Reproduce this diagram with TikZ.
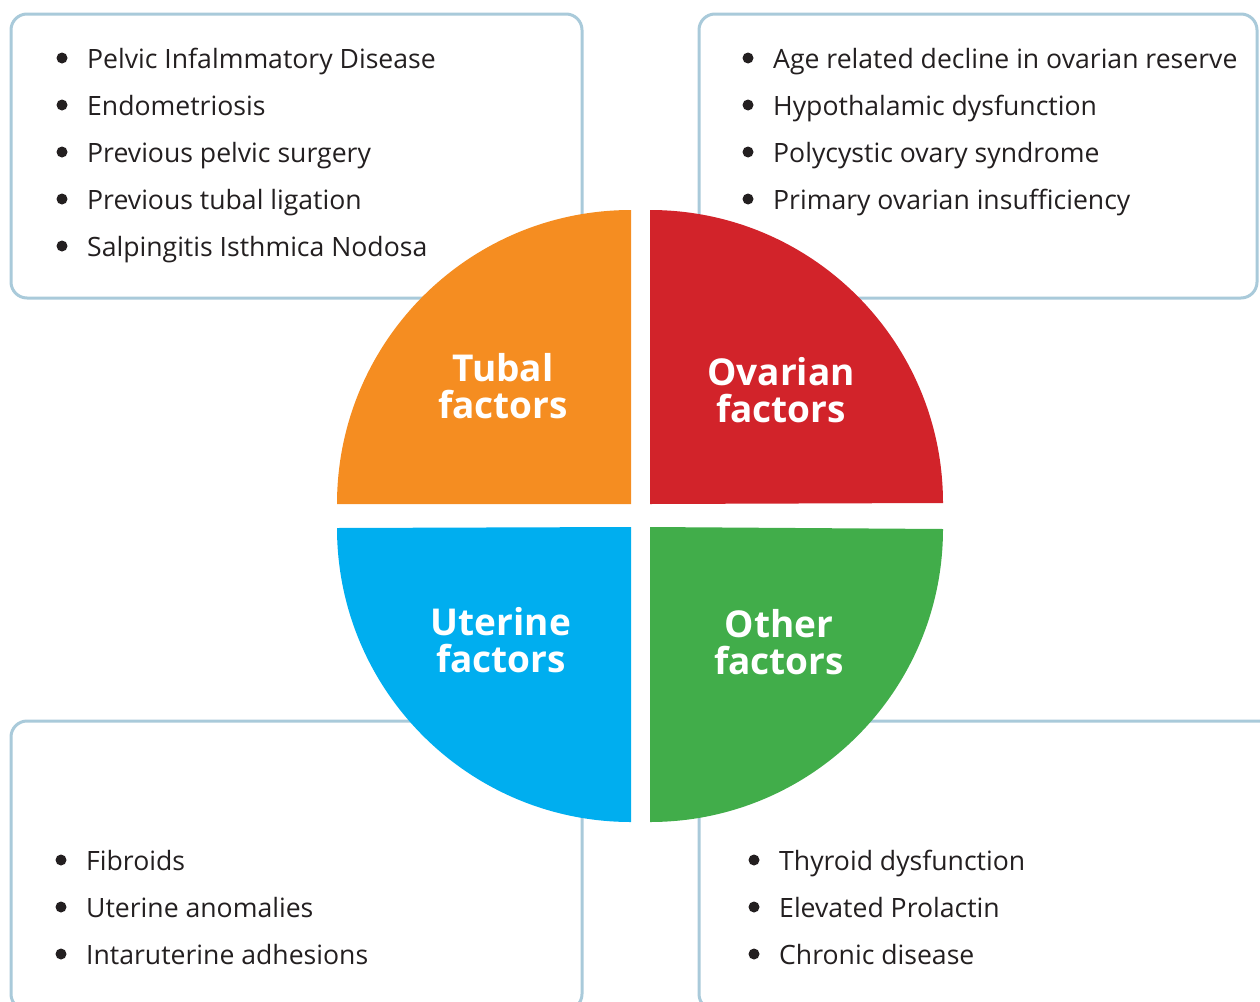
\documentclass[tikz,border=0pt]{standalone}
\usepackage{fontspec}
\setmainfont{Open Sans}
\definecolor{boxline}{HTML}{A9CADA}
\definecolor{ink}{HTML}{231F20}
\definecolor{tubal}{HTML}{F58D21}
\definecolor{ovarian}{HTML}{D2232A}
\definecolor{uterine}{HTML}{00AEEF}
\definecolor{other}{HTML}{41AD4A}

\begin{document}
\begin{tikzpicture}[x=1pt,y=-1pt,
    frame/.style={draw=boxline,line width=3pt,rounded corners=16pt,fill=white},
    item/.style={anchor=base west,inner sep=0pt,text=ink,font=\fontsize{26.6}{30}\selectfont},
    factor/.style={align=center,text=white,font=\fontsize{37}{37}\selectfont\bfseries}]
  \useasboundingbox (0,0) rectangle (1260,1001);
  \clip (0,0) rectangle (1260,1001);
  % the four list boxes
  \draw[frame] (11,14) rectangle (582,298);
  \draw[frame] (699,14) rectangle (1257,298);
  \draw[frame] (11,721) rectangle (582,1010);
  \draw[frame] (699,721) rectangle (1275,1010);
  % bullet lists
  \foreach \t [count=\i] in {Pelvic Infalmmatory Disease,Endometriosis,Previous pelvic surgery,Previous tubal ligation,Salpingitis Isthmica Nodosa}{
    \fill[ink] (62,11+47*\i) circle (5.5);
    \node[item] (tub\i) at (87,21+47*\i) {\t};
  }
  \foreach \t [count=\i] in {Age related decline in ovarian reserve,Hypothalamic dysfunction,Polycystic ovary syndrome,Primary ovarian insufficiency}{
    \fill[ink] (748,11+47*\i) circle (5.5);
    \node[item] (ova\i) at (773,21+47*\i) {\t};
  }
  \foreach \t [count=\i] in {Fibroids,Uterine anomalies,Intaruterine adhesions}{
    \fill[ink] (61,813+47*\i) circle (5.5);
    \node[item] (ute\i) at (86,823+47*\i) {\t};
  }
  \foreach \t [count=\i] in {Thyroid dysfunction,Elevated Prolactin,Chronic disease}{
    \fill[ink] (754,813+47*\i) circle (5.5);
    \node[item] (oth\i) at (779,823+47*\i) {\t};
  }
  % quarter discs
  \fill[tubal] (631,504) -- (631,210) arc[start angle=270,end angle=180,radius=294] -- cycle;
  \fill[ovarian] (650,504) -- (650,210) arc[start angle=270,end angle=360,radius=293] -- cycle;
  \fill[uterine] (631,527) -- (631,822) arc[start angle=90,end angle=180,radius=294] -- cycle;
  \fill[other] (650,527) -- (650,822) arc[start angle=90,end angle=0,radius=293] -- cycle;
  \node[factor] (tubal) at (503,386) {Tubal\\factors};
  \node[factor] (ovarian) at (781,390) {Ovarian\\factors};
  \node[factor] (uterine) at (501,640) {Uterine\\factors};
  \node[factor] (other) at (779,642) {Other\\factors};
\end{tikzpicture}
\end{document}
